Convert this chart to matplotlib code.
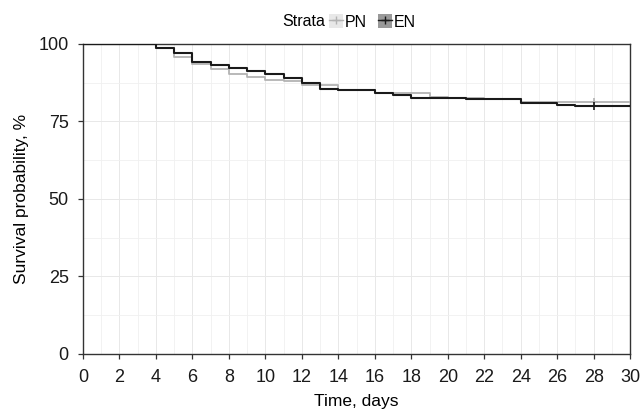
## Kaplan-Meier style survival curves, PN vs EN
import matplotlib.pyplot as plt
import numpy as np
from matplotlib.lines import Line2D
from matplotlib.patches import Patch
from matplotlib.legend_handler import HandlerTuple

plt.rcParams['font.family'] = ['Liberation Sans', 'DejaVu Sans']

##data (step starts, survival %)
en_time = [0, 4, 5, 6, 7, 8, 9, 10, 11, 12, 13, 14, 16, 17, 18, 21, 22, 24, 26, 27, 30]
en_surv = [100, 98.7, 97.2, 94.3, 93.3, 92.4, 91.2, 90.4, 88.9, 87.4, 85.5, 85.2, 84.1, 83.5, 82.7, 82.3, 82.1, 81.0, 80.3, 79.9, 79.9]
pn_time = [0, 4, 5, 6, 7, 8, 9, 10, 11, 12, 14, 16, 19, 20, 22, 24, 30]
pn_surv = [100, 98.7, 95.8, 93.7, 91.9, 90.3, 89.3, 88.3, 88.1, 86.8, 85.2, 84.3, 83.0, 82.7, 82.4, 81.4, 81.4]
censor_time = [28]
en_censor = [79.9]
pn_censor = [81.4]

x_ticks = list(range(0, 31, 2))
y_ticks = [0, 25, 50, 75, 100]

pn_col = '#b3b3b3'
en_col = '#1a1a1a'
spine_col = '#333333'

fig = plt.figure(figsize=(6.41, 4.15), dpi=100)
ax = fig.add_axes([0.1295, 0.147, 0.8535, 0.747])

ax.step(pn_time, pn_surv, where='post', color=pn_col, lw=1.3, zorder=3)
ax.step(en_time, en_surv, where='post', color=en_col, lw=1.5, zorder=4)
ax.plot(censor_time, pn_censor, '+', color=pn_col, ms=6, mew=1.2, zorder=3)
ax.plot(censor_time, en_censor, '+', color=en_col, ms=6, mew=1.2, zorder=4)

ax.set_xlim(0, 30)
ax.set_ylim(0, 100)
ax.set_xticks(x_ticks)
ax.set_xticks(range(0, 31), minor=True)
ax.set_yticks(y_ticks)
ax.set_yticks(np.arange(0, 101, 12.5), minor=True)
ax.tick_params(axis='both', which='major', labelsize=13, length=3.8, width=0.9,
               color=spine_col, labelcolor='#1a1a1a', pad=7)
ax.tick_params(axis='y', which='major', pad=6.5)
ax.tick_params(axis='both', which='minor', length=0)
ax.grid(True, which='major', color='#e8e8e8', lw=0.7, zorder=0)
ax.grid(True, which='minor', color='#f0f0f0', lw=0.6, zorder=0)
ax.set_axisbelow(True)
for s in ax.spines.values():
    s.set_color(spine_col)
    s.set_linewidth(1.0)

ax.set_xlabel('Time, days', fontsize=12.5, labelpad=6)
ax.set_ylabel('Survival probability, %', fontsize=12.5, labelpad=7)

##legend laid out in one row like ggplot
fig.text(0.441, 0.947, 'Strata', fontsize=11.5, va='center', ha='left')
h_pn = (Patch(facecolor='#e8e8e8', edgecolor='none'),
        Line2D([], [], color=pn_col, marker='+', lw=1.0, ms=6))
h_en = (Patch(facecolor='#999999', edgecolor='none'),
        Line2D([], [], color=en_col, marker='+', lw=1.0, ms=6))
fig.legend([h_pn, h_en], ['PN', 'EN'], handler_map={tuple: HandlerTuple(ndivide=1, pad=0)},
           loc='center left', bbox_to_anchor=(0.513, 0.947), ncol=2, frameon=False,
           fontsize=11.5, handlelength=0.9, handleheight=0.9, handletextpad=0.1,
           columnspacing=0.7, borderpad=0, borderaxespad=0)

fig.savefig('out.png', dpi=100)
